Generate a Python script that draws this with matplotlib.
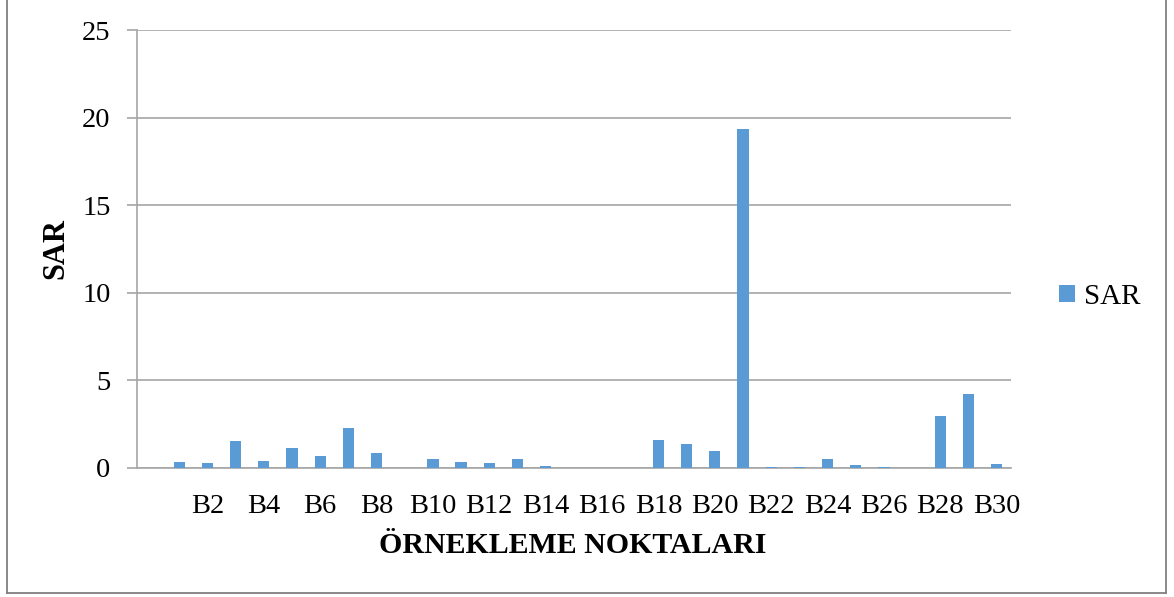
import matplotlib
matplotlib.use("Agg")
import matplotlib.pyplot as plt
from matplotlib.lines import Line2D

categories = [""] + [f"B{i}" for i in range(1, 31)]
sar = [0.0,
       0.31, 0.27, 1.51, 0.40, 1.11, 0.69, 2.25, 0.84, 0.0, 0.48,
       0.33, 0.27, 0.48, 0.10, 0.0, 0.0, 0.0, 1.60, 1.37, 0.97,
       19.35, 0.03, 0.03, 0.48, 0.17, 0.02, 0.0, 2.97, 4.23, 0.20]
series_name = "SAR"
yticks = [0, 5, 10, 15, 20, 25]

plt.rcParams['font.family'] = ['Liberation Serif', 'DejaVu Serif']

W, H = 1174, 597
fig = plt.figure(figsize=(W/100, H/100), dpi=100)
ax = fig.add_axes([137/W, 1 - 467.7/H, (1010.7-137)/W, (467.7-30)/H])

x = list(range(len(categories)))
bars = ax.bar(x, sar, width=0.4, color="#5B9BD5", label=series_name, zorder=3)

ax.set_xlim(-0.5, len(categories) - 0.5)
ax.set_ylim(0, 25)
ax.set_yticks(yticks)
ax.yaxis.grid(True, color="#A6A6A6", linewidth=1.2, zorder=0)
for s in ["top", "right"]:
    ax.spines[s].set_visible(False)
for s in ["left", "bottom"]:
    ax.spines[s].set_color("#A6A6A6")
    ax.spines[s].set_linewidth(1.2)
ax.tick_params(axis="y", length=7, width=1.2, color="#A6A6A6", labelsize=20.5, pad=12)
ax.set_xticks(x[2::2])
ax.set_xticklabels(categories[2::2])
ax.tick_params(axis="x", length=0, labelsize=20.5, pad=19)

fig.text(573/W, 1 - 553/H, "ÖRNEKLEME NOKTALARI", ha="center", va="baseline",
         fontsize=21.5, fontweight="bold")
fig.text(56/W, 1 - 249/H, "SAR", ha="center", va="center", rotation=90,
         fontsize=22, fontweight="bold")

fig.legend(handles=[bars], labels=[series_name], loc="center left",
           bbox_to_anchor=(1033/W, 1 - 297/H), frameon=False,
           fontsize=21, handlelength=0.55, handleheight=0.55, handletextpad=0.3)

for (x0, y0, x1, y1) in [(7, 0, 7, 592.7), (7, 592.7, 1166, 592.7), (1166, 0, 1166, 592.7)]:
    fig.add_artist(Line2D([x0/W, x1/W], [1 - y0/H, 1 - y1/H], transform=fig.transFigure,
                          color="#808080", linewidth=1.3))

fig.savefig("out.png", dpi=100)
